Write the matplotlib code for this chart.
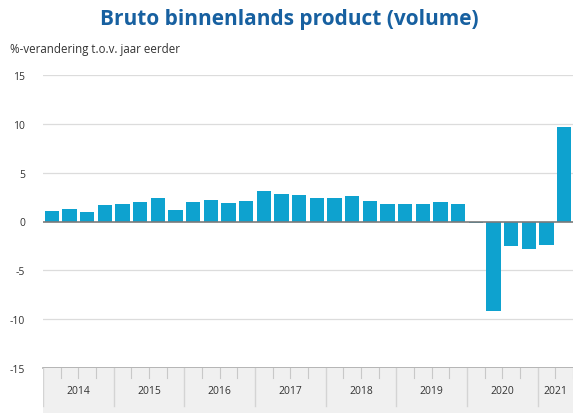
import matplotlib.pyplot as plt

# kwartaalcijfers bbp, %-verandering t.o.v. jaar eerder
years = ['2014', '2015', '2016', '2017', '2018', '2019', '2020', '2021']
values = [1.1, 1.3, 1.0, 1.7,
          1.8, 2.0, 2.4, 1.2,
          2.0, 2.2, 1.9, 2.1,
          3.1, 2.85, 2.7, 2.45,
          2.45, 2.6, 2.05, 1.8,
          1.8, 1.8, 1.95, 1.8,
          -0.2, -9.2, -2.55, -2.8,
          -2.4, 9.7]
yticks = [15, 10, 5, 0, -5, -10, -15]

W, H = 573, 414
fig = plt.figure(figsize=(W / 100, H / 100), dpi=100)
plt.rcParams['font.family'] = ['Open Sans', 'DejaVu Sans']

left = 43 / W
right = 1.0
top = 1 - 76 / H
bottom = 1 - 369 / H

ax = fig.add_axes([left, bottom, right - left, top - bottom])
x = list(range(len(values)))
ax.bar(x, values, width=0.8, color='#0ea2cf', zorder=3)
ax.set_xlim(-0.5, 29.5)
ax.set_ylim(-15, 15)
ax.set_yticks(yticks)
ax.set_yticklabels([str(t) for t in yticks], fontsize=7.5, color='#333333')
ax.tick_params(axis='y', length=0, pad=13)
ax.set_xticks([])
for s in ax.spines.values():
    s.set_visible(False)
for t in yticks:
    if t not in (0, -15):
        ax.axhline(t, color='#dcdcdc', lw=0.9, zorder=1)
ax.axhline(0, color='#7a7a7a', lw=1.2, zorder=4)
ax.axhline(-15, color='#a8a8a8', lw=1.2, zorder=4, clip_on=False)

# x-as band met jaren
axb = fig.add_axes([left, 0, right - left, bottom])
axb.set_facecolor('#f0f0f0')
axb.set_xlim(-0.5, 29.5)
axb.set_ylim(0, 1)
axb.set_xticks([])
axb.set_yticks([])
for s in axb.spines.values():
    s.set_visible(False)
for i in range(len(values) + 1):
    if i % 4 == 0:
        axb.plot([i - 0.5, i - 0.5], [0.15, 1.0], color='#d4d4d4', lw=1.0)
    else:
        axb.plot([i - 0.5, i - 0.5], [0.77, 1.0], color='#c8c8c8', lw=0.8)
for k, yr in enumerate(years):
    n = min(4, len(values) - 4 * k)
    cx = 4 * k - 0.5 + n / 2
    axb.text(cx, 0.5, yr, ha='center', va='center', fontsize=7.5, color='#333333')

fig.text(0.505, 1 - 20 / H, 'Bruto binnenlands product (volume)', ha='center', va='center',
         fontsize=15, fontweight='bold', color='#1760a0')
fig.text(10 / W, 1 - 50 / H, '%-verandering t.o.v. jaar eerder', ha='left', va='center',
         fontsize=8.3, color='#333333')

fig.savefig('out.png', dpi=100)
